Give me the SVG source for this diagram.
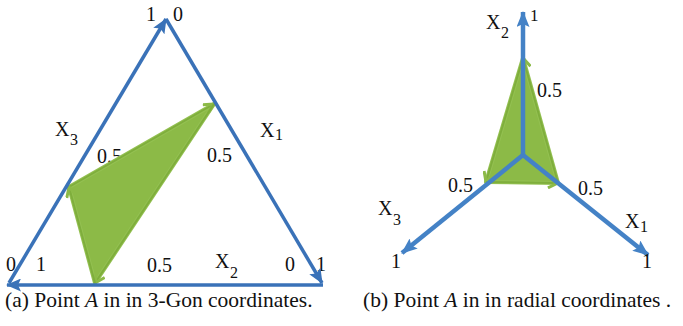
<svg xmlns="http://www.w3.org/2000/svg" width="683" height="326" viewBox="0 0 683 326">
<defs>
<marker id="ab" markerUnits="userSpaceOnUse" viewBox="0 0 15 13" refX="14" refY="6.5" markerWidth="15" markerHeight="13" orient="auto">
<path d="M0,0 L15,6.5 L0,13 L3,6.5 Z" fill="#3A72B8"/>
</marker>
<marker id="ab2" markerUnits="userSpaceOnUse" viewBox="0 0 16 13" refX="15" refY="6.5" markerWidth="16" markerHeight="13" orient="auto">
<path d="M0,0 L16,6.5 L0,13 L3,6.5 Z" fill="#4482C6"/>
</marker>
<marker id="ag" markerUnits="userSpaceOnUse" viewBox="0 0 12 12" refX="11" refY="6" markerWidth="12" markerHeight="12" orient="auto">
<path d="M1,1 L11,6 L1,11" fill="none" stroke="#8CBA47" stroke-width="3" stroke-linejoin="round"/>
</marker>
</defs>

<g id="panel-a">
<g id="labels-a" fill="#111" font-family="Times New Roman, Liberation Serif, serif">
<text font-size="20" x="146" y="21">1</text>
<text font-size="20" x="173" y="21">0</text>
<text font-size="20" x="55" y="136">X</text><text font-size="16" x="70" y="145">3</text>
<text font-size="20" x="260" y="137">X</text><text font-size="16" x="275" y="140">1</text>
<text font-size="20" x="97" y="163">0.5</text>
<text font-size="20" x="207" y="162">0.5</text>
<text font-size="20" x="6" y="271">0</text>
<text font-size="20" x="36" y="271">1</text>
<text font-size="20" x="147" y="272">0.5</text>
<text font-size="20" x="215" y="268">X</text><text font-size="16" x="230" y="278">2</text>
<text font-size="20" x="285" y="271">0</text>
<text font-size="20" x="316" y="271">1</text>
</g>
<g id="point-a-gon">
<polygon points="69,187 214,104 95,283" fill="#8CBA47" stroke="#94C152" stroke-width="4" stroke-linejoin="round"/>
<g stroke="#7FAE3C" stroke-width="2" fill="none">
<path d="M69,187 L214,104" marker-end="url(#ag)"/>
<path d="M214,104 L95,283" marker-end="url(#ag)"/>
<path d="M95,283 L69,187" marker-end="url(#ag)"/>
</g>
</g>
<g id="connectors-a" stroke="#3A72B8" stroke-width="3.5" fill="none">
<path d="M9,283 L166,19" marker-end="url(#ab)"/>
<path d="M166,19 L322,283" marker-end="url(#ab)"/>
<path d="M323,285 L7,285" marker-end="url(#ab)"/>
</g>
<text font-family="Times New Roman, Liberation Serif, serif" font-size="21.5" fill="#111" x="5" y="307">(a)  Point <tspan font-style="italic">A</tspan> in in 3-Gon coordinates.</text>
</g>

<g id="panel-b">
<g id="point-a-radial">
<polygon points="523,58 486,182 558,183" fill="#8CBA47" stroke="#94C152" stroke-width="4" stroke-linejoin="round"/>
<g stroke="#7FAE3C" stroke-width="2" fill="none">
<path d="M558,183 L523,58" marker-end="url(#ag)"/>
<path d="M523,58 L486,182" marker-end="url(#ag)"/>
<path d="M486,182 L558,183" marker-end="url(#ag)"/>
</g>
</g>
<g id="connectors-b" stroke="#4482C6" stroke-width="4.5" fill="none">
<path d="M523,155 L523,12" marker-end="url(#ab2)"/>
<path d="M523,155 L402,253" marker-end="url(#ab2)"/>
<path d="M523,155 L648,255" marker-end="url(#ab2)"/>
</g>
<g id="labels-b" fill="#111" font-family="Times New Roman, Liberation Serif, serif">
<text font-size="20" x="486" y="29">X</text><text font-size="16" x="501" y="38">2</text>
<text font-size="17" x="530" y="21">1</text>
<text font-size="20" x="537" y="97">0.5</text>
<text font-size="20" x="448" y="192">0.5</text>
<text font-size="20" x="578" y="195">0.5</text>
<text font-size="20" x="378" y="215">X</text><text font-size="16" x="393" y="225">3</text>
<text font-size="20" x="625" y="228">X</text><text font-size="16" x="640" y="232">1</text>
<text font-size="20" x="391" y="268">1</text>
<text font-size="20" x="642" y="268">1</text>
</g>
<text font-family="Times New Roman, Liberation Serif, serif" font-size="21.5" fill="#111" x="363" y="307">(b) Point <tspan font-style="italic">A</tspan> in in radial coordinates .</text>
</g>
</svg>
